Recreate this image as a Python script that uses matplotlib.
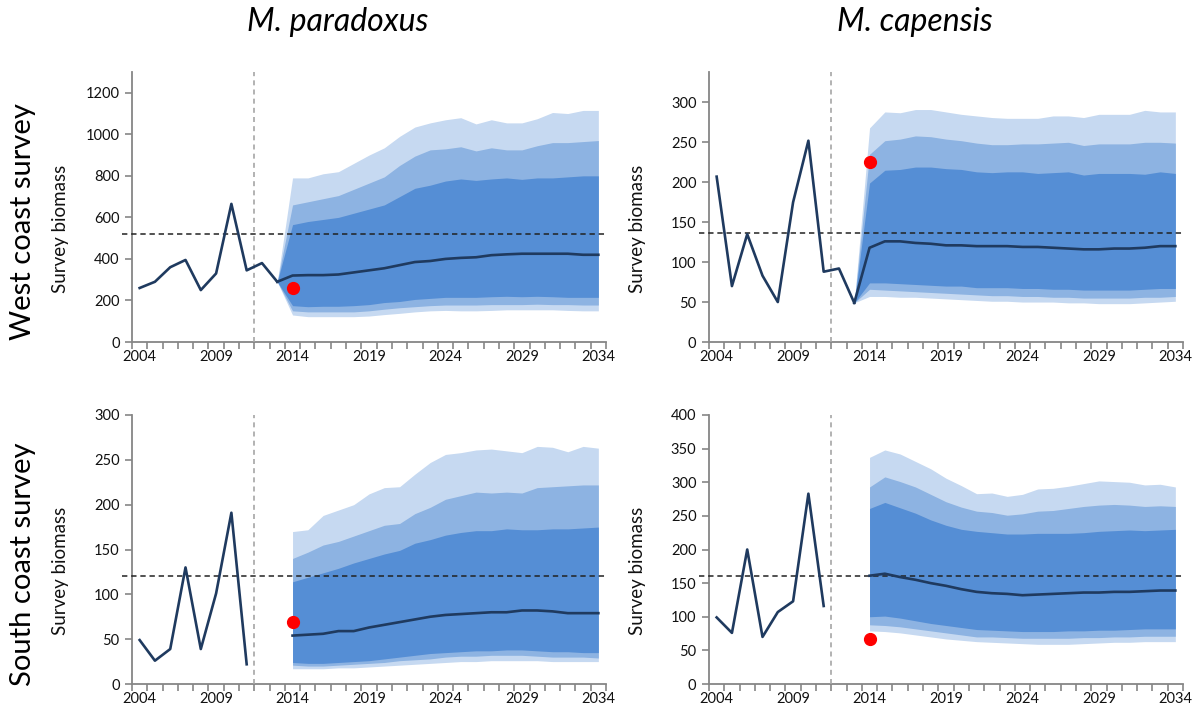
import matplotlib
matplotlib.use("Agg")
import matplotlib.pyplot as plt
import numpy as np

plt.rcParams['font.family'] = ['Lato', 'DejaVu Sans']

# ---- data ----
years_obs_west = np.arange(2004, 2014)
years_obs_south = np.arange(2004, 2012)
years_proj_west = np.arange(2013, 2035)   # fan starts from last survey point
years_proj_south = np.arange(2014, 2035)

# West coast, M. paradoxus
wp_obs = [260, 290, 360, 395, 250, 330, 665, 345, 380, 290]
wp_med = [290, 320, 322, 322, 325, 335, 345, 355, 370, 385, 390, 400, 405, 408, 418, 422, 425, 425, 425, 425, 420, 420]
wp_hi3 = [290, 790, 790, 810, 820, 860, 900, 935, 990, 1035, 1055, 1070, 1080, 1050, 1070, 1055, 1055, 1075, 1105, 1100, 1115, 1115]
wp_hi2 = [290, 660, 675, 690, 705, 735, 765, 795, 850, 895, 925, 930, 940, 920, 935, 925, 925, 945, 960, 960, 965, 970]
wp_hi1 = [290, 565, 580, 590, 600, 620, 640, 660, 700, 740, 755, 775, 785, 778, 785, 790, 783, 790, 790, 795, 800, 800]
wp_lo1 = [290, 175, 170, 172, 172, 175, 180, 190, 195, 205, 210, 215, 215, 215, 218, 220, 218, 220, 218, 215, 215, 215]
wp_lo2 = [290, 150, 145, 145, 145, 145, 150, 158, 165, 170, 175, 178, 178, 178, 180, 180, 180, 182, 180, 180, 178, 178]
wp_lo3 = [290, 130, 122, 122, 122, 122, 125, 132, 138, 145, 150, 152, 150, 150, 152, 155, 155, 155, 155, 152, 150, 150]
wp_survey2014 = 258
wp_ref = 520

# West coast, M. capensis
wc_obs = [207, 70, 135, 83, 50, 175, 252, 88, 92, 49]
wc_med = [49, 118, 126, 126, 124, 123, 121, 121, 120, 120, 120, 119, 119, 118, 117, 116, 116, 117, 117, 118, 120, 120]
wc_hi3 = [49, 268, 288, 287, 291, 291, 288, 285, 283, 281, 280, 280, 280, 283, 283, 281, 285, 285, 285, 290, 288, 288]
wc_hi2 = [49, 235, 252, 254, 258, 257, 254, 252, 249, 247, 247, 248, 248, 249, 250, 246, 248, 248, 248, 250, 250, 249]
wc_hi1 = [49, 199, 215, 216, 219, 219, 217, 216, 213, 212, 213, 213, 211, 212, 213, 209, 211, 211, 211, 210, 213, 211]
wc_lo1 = [49, 74, 74, 73, 72, 71, 70, 70, 68, 68, 68, 67, 67, 66, 66, 65, 65, 65, 65, 66, 67, 67]
wc_lo2 = [49, 66, 65, 64, 63, 62, 61, 60, 59, 58, 58, 57, 57, 56, 56, 55, 55, 55, 55, 56, 56, 57]
wc_lo3 = [49, 57, 57, 56, 56, 55, 54, 53, 52, 51, 51, 50, 50, 50, 49, 49, 48, 48, 48, 49, 50, 51]
wc_survey2014 = 225
wc_ref = 136

# South coast, M. paradoxus
sp_obs = [49, 26, 39, 130, 39, 101, 191, 22]
sp_med = [54, 55, 56, 59, 59, 63, 66, 69, 72, 75, 77, 78, 79, 80, 80, 82, 82, 81, 79, 79, 79]
sp_hi3 = [170, 172, 188, 194, 200, 212, 219, 220, 234, 247, 256, 258, 261, 262, 260, 258, 265, 264, 259, 265, 263]
sp_hi2 = [140, 147, 155, 159, 165, 171, 177, 179, 190, 197, 206, 210, 214, 213, 214, 213, 219, 220, 221, 222, 222]
sp_hi1 = [114, 119, 124, 129, 135, 140, 145, 149, 157, 161, 166, 169, 171, 171, 173, 172, 172, 173, 173, 174, 175]
sp_lo1 = [24, 23, 23, 24, 25, 26, 28, 30, 32, 34, 35, 36, 37, 37, 38, 38, 37, 36, 36, 35, 35]
sp_lo2 = [21, 20, 20, 21, 22, 23, 24, 26, 27, 28, 30, 31, 31, 32, 32, 32, 31, 30, 30, 30, 29]
sp_lo3 = [17, 17, 17, 18, 18, 19, 20, 21, 22, 23, 24, 25, 25, 26, 26, 26, 26, 25, 25, 25, 25]
sp_survey2014 = 69
sp_ref = 120

# South coast, M. capensis
sc_obs = [99, 76, 200, 70, 107, 123, 283, 116]
sc_med = [161, 164, 159, 155, 150, 146, 141, 137, 135, 134, 132, 133, 134, 135, 136, 136, 137, 137, 138, 139, 139]
sc_hi3 = [337, 348, 342, 331, 320, 306, 295, 283, 284, 279, 282, 290, 291, 294, 298, 302, 301, 300, 296, 297, 293]
sc_hi2 = [293, 308, 301, 293, 282, 271, 263, 257, 255, 251, 253, 257, 258, 261, 264, 266, 267, 266, 264, 265, 264]
sc_hi1 = [261, 270, 262, 254, 244, 236, 230, 227, 225, 223, 223, 224, 224, 224, 225, 227, 228, 229, 228, 229, 230]
sc_lo1 = [100, 101, 98, 94, 90, 87, 84, 81, 80, 79, 78, 78, 78, 79, 79, 80, 80, 81, 82, 82, 82]
sc_lo2 = [88, 87, 85, 82, 79, 76, 73, 70, 70, 69, 68, 68, 68, 68, 69, 69, 70, 70, 71, 71, 71]
sc_lo3 = [79, 78, 76, 73, 70, 67, 65, 63, 62, 61, 60, 59, 59, 59, 60, 61, 62, 62, 63, 63, 63]
sc_survey2014 = 67
sc_ref = 160

species = ["M. paradoxus", "M. capensis"]
rows = ["West coast survey", "South coast survey"]
xtick_years = [2004, 2009, 2014, 2019, 2024, 2029, 2034]

# ---- styling ----
c_outer = "#c6d9f1"
c_mid = "#8db3e2"
c_inner = "#558ed5"
c_line = "#1f3a5f"
c_axis = "#868686"

fig = plt.figure(figsize=(12.01, 7.11), dpi=100)

W, H = 1201.0, 711.0
def add_ax(left, right, top, bottom):
    return fig.add_axes([left / W, 1 - bottom / H, (right - left) / W, (bottom - top) / H])

panels = [
    (add_ax(132, 606, 72, 342), years_obs_west, wp_obs, years_proj_west, wp_med,
     (wp_lo3, wp_hi3), (wp_lo2, wp_hi2), (wp_lo1, wp_hi1), wp_survey2014, wp_ref,
     1300, [0, 200, 400, 600, 800, 1000, 1200]),
    (add_ax(709, 1183, 72, 342), years_obs_west, wc_obs, years_proj_west, wc_med,
     (wc_lo3, wc_hi3), (wc_lo2, wc_hi2), (wc_lo1, wc_hi1), wc_survey2014, wc_ref,
     338, [0, 50, 100, 150, 200, 250, 300]),
    (add_ax(132, 606, 415, 684), years_obs_south, sp_obs, years_proj_south, sp_med,
     (sp_lo3, sp_hi3), (sp_lo2, sp_hi2), (sp_lo1, sp_hi1), sp_survey2014, sp_ref,
     300, [0, 50, 100, 150, 200, 250, 300]),
    (add_ax(709, 1183, 415, 684), years_obs_south, sc_obs, years_proj_south, sc_med,
     (sc_lo3, sc_hi3), (sc_lo2, sc_hi2), (sc_lo1, sc_hi1), sc_survey2014, sc_ref,
     400, [0, 50, 100, 150, 200, 250, 300, 350, 400]),
]

for (ax, yo, obs, yp, med, b3, b2, b1, surv, ref, ymax, yticks) in panels:
    ax.fill_between(yp, b3[0], b3[1], color=c_outer, lw=0, zorder=1)
    ax.fill_between(yp, b2[0], b2[1], color=c_mid, lw=0, zorder=2)
    ax.fill_between(yp, b1[0], b1[1], color=c_inner, lw=0, zorder=3)
    ax.plot(yo, obs, color=c_line, lw=1.9, zorder=5)
    ax.plot(yp, med, color=c_line, lw=1.9, zorder=5)
    ax.plot([2014], [surv], 'o', color='red', ms=8.5, zorder=6)
    ax.axhline(ref, xmin=-0.022, xmax=1.0, color='#222222', lw=1.1,
               ls=(0, (3.5, 2.5)), clip_on=False, zorder=4)
    ax.axvline(2011.5, color='#a6a6a6', lw=1.2, ls=(0, (3, 2.5)), zorder=4)

    ax.set_xlim(2003.5, 2034.5)
    ax.set_ylim(0, ymax)
    ax.set_yticks(yticks)
    ax.set_xticks(xtick_years)
    ax.set_xticks(np.arange(2003.5, 2035, 1.0), minor=True)
    ax.tick_params(axis='x', which='major', length=0, pad=6, labelsize=10.5, colors='#111111')
    ax.tick_params(axis='x', which='minor', length=5, width=1.2, color=c_axis, direction='out')
    ax.tick_params(axis='y', length=5, width=1.2, color=c_axis, labelsize=10.5,
                   labelcolor='#111111', pad=4)
    for s in ['top', 'right']:
        ax.spines[s].set_visible(False)
    for s in ['left', 'bottom']:
        ax.spines[s].set_color(c_axis)
        ax.spines[s].set_linewidth(1.3)
    ax.set_ylabel("Survey biomass", fontsize=13.5, color='#111111')
    ax.yaxis.set_label_coords(-0.133, 0.42)

fig.text(338 / W, 1 - 22 / H, species[0], fontsize=23, style='italic', ha='center', va='center')
fig.text(915 / W, 1 - 22 / H, species[1], fontsize=23, style='italic', ha='center', va='center')
fig.text(23 / W, 1 - 222 / H, rows[0], fontsize=21, rotation=90, ha='center', va='center')
fig.text(23 / W, 1 - 564 / H, rows[1], fontsize=21, rotation=90, ha='center', va='center')

fig.savefig("out.png", dpi=100)
